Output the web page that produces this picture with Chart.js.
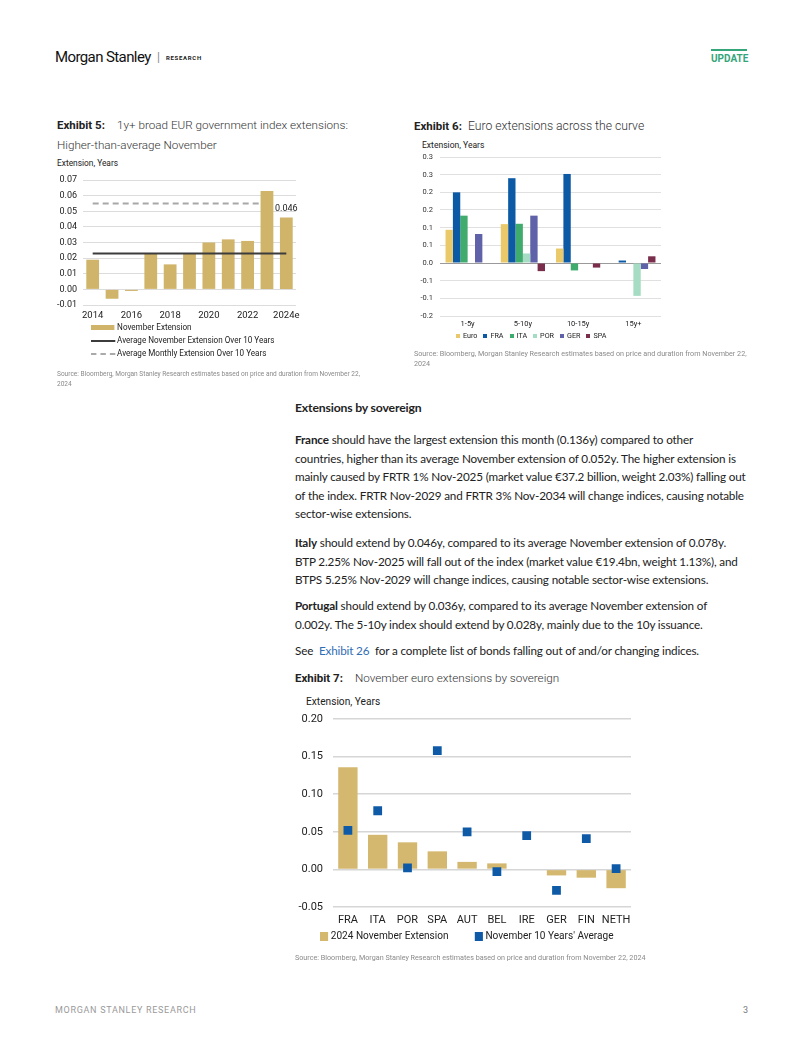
<!DOCTYPE html>
<html lang="en">
<head>
<meta charset="UTF-8">
<title>November euro extensions</title>
<script src="https://cdn.jsdelivr.net/npm/chart.js"></script>
<style>
    * { margin: 0; padding: 0; box-sizing: border-box; }
    body { background: #fff; width: 802px; height: 1037px; position: relative; overflow: hidden; font-family: Roboto, sans-serif; color: #222; }
    .abs { position: absolute; white-space: nowrap; }
    .cond { transform: scaleX(0.9); transform-origin: left center; }
    .ex { font-size: 11.5px; line-height: 14px; font-weight: 700; color: #222; }
    .ext { font-size: 11.7px; line-height: 14px; font-weight: 300; color: #333; }
    .src { font-size: 7.2px; line-height: 10px; color: #8a8a8a; }
    .body { font-family: Lato, 'Open Sans', sans-serif; font-size: 11.7px; letter-spacing: -0.15px; line-height: 18.5px; color: #222; }
    .body b { font-weight: 700; }
    .body a { color: #2f6db5; text-decoration: none; }
    .lg { display: flex; align-items: center; }
    .sw { display: inline-block; }
    canvas { display: block; }
</style>
</head>
<body>
<!-- header -->
<div class="abs" style="left:55px; top:48px; font-size:15px; line-height:18px; letter-spacing:-0.6px; color:#111;">Morgan Stanley</div>
<div class="abs" style="left:157px; top:50px; font-size:12px; line-height:14px; color:#888;">|</div>
<div class="abs" style="left:166px; top:54px; font-size:6px; line-height:8px; font-weight:700; letter-spacing:0.7px;">RESEARCH</div>
<div class="abs" style="left:711px; top:49px; width:36px; border-top:2px solid #35a57a; padding-top:2px; font-size:10px; line-height:12px; font-weight:700; color:#35a57a; text-align:center;">UPDATE</div>

<!-- exhibit 5 -->
<div class="abs ex" style="left:57px; top:118px;">Exhibit 5:</div>
<div class="abs ext" style="left:117px; top:118px;">1y+ broad EUR government index extensions:</div>
<div class="abs ext" style="left:57px; top:138px;">Higher-than-average November</div>
<div class="abs cond" style="left:57px; top:157px; font-size:9.3px; line-height:12px;">Extension, Years</div>
<div class="abs" style="left:55px; top:172px; width:245px; height:154px;"><canvas id="c5"></canvas></div>
<div class="abs cond" style="left:91px; top:321px; font-size:9px; line-height:13px;">
    <div class="lg"><span class="sw" style="width:26px; height:5px; background:#d0b46a; margin-right:3px;"></span>November Extension</div>
    <div class="lg"><span class="sw" style="width:27px; height:0; border-top:2px solid #3c3c3c; margin-right:2px;"></span>Average November Extension Over 10 Years</div>
    <div class="lg"><span class="sw" style="width:27px; height:0; border-top:2px dashed #aaa; margin-right:2px;"></span>Average Monthly Extension Over 10 Years</div>
</div>
<div class="abs src" style="left:57px; top:369px; font-size:6.55px;">Source: Bloomberg, Morgan Stanley Research estimates based on price and duration from November 22,<br>2024</div>

<!-- exhibit 6 -->
<div class="abs ex" style="left:414px; top:119px;">Exhibit 6:</div>
<div class="abs ext" style="left:468px; top:119px; font-size:12.2px;">Euro extensions across the curve</div>
<div class="abs cond" style="left:422px; top:139px; font-size:9.5px; line-height:12px;">Extension, Years</div>
<div class="abs" style="left:412px; top:151px; width:255px; height:181px;"><canvas id="c6"></canvas></div>
<div class="abs" id="lg6" style="left:456px; top:331px; font-size:7.2px; line-height:10px; display:flex; gap:6px;"></div>
<div class="abs src" style="left:414px; top:349px;">Source: Bloomberg, Morgan Stanley Research estimates based on price and duration from November 22,<br>2024</div>

<!-- text -->
<div class="abs body" style="left:295px; top:399px; font-weight:700; font-size:12.2px;">Extensions by sovereign</div>
<div class="abs body" style="left:295px; top:430px;"><b>France</b> should have the largest extension this month (0.136y) compared to other<br>countries, higher than its average November extension of 0.052y. The higher extension is<br>mainly caused by FRTR 1% Nov-2025 (market value €37.2 billion, weight 2.03%) falling out<br>of the index. FRTR Nov-2029 and FRTR 3% Nov-2034 will change indices, causing notable<br>sector-wise extensions.</div>
<div class="abs body" style="left:295px; top:533px;"><b>Italy</b> should extend by 0.046y, compared to its average November extension of 0.078y.<br>BTP 2.25% Nov-2025 will fall out of the index (market value €19.4bn, weight 1.13%), and<br>BTPS 5.25% Nov-2029 will change indices, causing notable sector-wise extensions.</div>
<div class="abs body" style="left:295px; top:596px;"><b>Portugal</b> should extend by 0.036y, compared to its average November extension of<br>0.002y. The 5-10y index should extend by 0.028y, mainly due to the 10y issuance.</div>
<div class="abs body" style="left:295px; top:641px;">See &nbsp;<a>Exhibit 26</a>&nbsp; for a complete list of bonds falling out of and/or changing indices.</div>

<!-- exhibit 7 -->
<div class="abs ex" style="left:295px; top:671px;">Exhibit 7:</div>
<div class="abs ext" style="left:355px; top:671px;">November euro extensions by sovereign</div>
<div class="abs cond" style="left:306px; top:695px; font-size:11.3px; line-height:14px;">Extension, Years</div>
<div class="abs" style="left:295px; top:709px; width:345px; height:222px;"><canvas id="c7"></canvas></div>
<div class="abs cond" style="left:320px; top:929px; font-size:11.2px; line-height:14px; display:flex;">
    <div class="lg"><span class="sw" style="width:9px; height:9px; background:#d4b86f; margin-right:3px;"></span>2024 November Extension</div>
    <div class="lg" style="margin-left:29px;"><span class="sw" style="width:9px; height:9px; background:#0e5aa7; margin-right:3px;"></span>November 10 Years' Average</div>
</div>
<div class="abs src" style="left:295px; top:953px;">Source: Bloomberg, Morgan Stanley Research estimates based on price and duration from November 22, 2024</div>

<!-- footer -->
<div class="abs" style="left:55px; top:1005px; font-size:9px; line-height:11px; letter-spacing:0.7px; color:#9a9a9a;">MORGAN STANLEY RESEARCH</div>
<div class="abs" style="left:743px; top:1005px; font-size:9px; line-height:11px; color:#777;">3</div>

<script>
    // exhibit 5 - 1y+ broad EUR index, November extensions
    const years5 = ['2014', '2015', '2016', '2017', '2018', '2019', '2020', '2021', '2022', '2023', '2024e'];
    const novExtension = [0.019, -0.006, -0.001, 0.023, 0.016, 0.023, 0.030, 0.032, 0.031, 0.063, 0.046];
    const avgNovOver10y = [0.023, 0.023, 0.023, 0.023, 0.023, 0.023, 0.023, 0.023, 0.023, 0.023, 0.023];
    const avgMonthlyOver10y = [0.055, 0.055, 0.055, 0.055, 0.055, 0.055, 0.055, 0.055, 0.055, 0.055, null];
    const ticks5 = ['2014', '', '2016', '', '2018', '', '2020', '', '2022', '', '2024e'];

    // exhibit 6 - euro extensions across the curve
    const buckets = ['1-5y', '5-10y', '10-15y', '15y+'];
    const euroExt = [0.094, 0.110, 0.041, 0];
    const fraExt = [0.200, 0.240, 0.252, 0.007];
    const itaExt = [0.134, 0.111, -0.021, 0];
    const porExt = [0, 0.027, 0, -0.093];
    const gerExt = [0.082, 0.134, 0, -0.017];
    const spaExt = [0, -0.023, -0.013, 0.019];

    // exhibit 7 - by sovereign
    const sovereigns = ['FRA', 'ITA', 'POR', 'SPA', 'AUT', 'BEL', 'IRE', 'GER', 'FIN', 'NETH'];
    const nov2024Ext = [0.136, 0.046, 0.036, 0.024, 0.010, 0.008, 0, -0.008, -0.011, -0.025];
    const nov10yAvg = [0.052, 0.078, 0.002, 0.158, 0.050, -0.003, 0.045, -0.028, 0.041, 0.001];

    const FONT = "Roboto, sans-serif";
    Chart.defaults.font.family = FONT;
    Chart.defaults.color = '#222';
    Chart.defaults.animation = false;
    Chart.defaults.maintainAspectRatio = false;
    Chart.defaults.responsive = true;
    Chart.defaults.plugins.legend.display = false;
    Chart.defaults.plugins.tooltip.enabled = false;

    // fixed axis sizes, no label overhang padding
    function fixSize(w, h) {
        return function (s) {
            if (w != null) s.width = w;
            if (h != null) s.height = h;
            s.paddingTop = 0; s.paddingBottom = 0; s.paddingLeft = 0; s.paddingRight = 0;
        };
    }

    const lastLabel = {
        id: 'lastLabel',
        afterDatasetsDraw(chart) {
            const bar = chart.getDatasetMeta(1).data[novExtension.length - 1];
            const ctx = chart.ctx;
            ctx.save();
            ctx.font = "9px " + FONT;
            ctx.fillStyle = '#222';
            ctx.textAlign = 'center';
            ctx.textBaseline = 'bottom';
            ctx.fillText(novExtension[novExtension.length - 1].toFixed(3), bar.x, bar.y - 4);
            ctx.restore();
        }
    };

    new Chart(document.getElementById('c5'), {
        type: 'bar',
        data: {
            labels: years5,
            datasets: [
                { type: 'line', label: 'Average November Extension Over 10 Years', data: avgNovOver10y, borderColor: '#3c3c3c', borderWidth: 2, pointRadius: 0, order: 0 },
                { label: 'November Extension', data: novExtension, backgroundColor: '#d0b46a', categoryPercentage: 0.66, barPercentage: 1, order: 1 },
                { type: 'line', label: 'Average Monthly Extension Over 10 Years', data: avgMonthlyOver10y, borderColor: '#a8a8a8', borderWidth: 2, borderDash: [6, 4], pointRadius: 0, order: 2 }
            ]
        },
        options: {
            layout: { autoPadding: false, padding: { top: 8, right: 4, left: 0, bottom: 0 } },
            scales: {
                x: {
                    grid: { display: false, drawTicks: false }, border: { display: false },
                    ticks: { autoSkip: false, maxRotation: 0, padding: 5, font: { size: 9.5 }, callback: (v, i) => ticks5[i] },
                    afterFit: fixSize(null, 21)
                },
                y: {
                    min: -0.01, max: 0.07,
                    grid: { color: '#dcdcdc', drawTicks: false }, border: { display: false },
                    ticks: { stepSize: 0.01, padding: 6, font: { size: 9 }, callback: v => v.toFixed(2) },
                    afterFit: fixSize(28, null)
                }
            }
        },
        plugins: [lastLabel]
    });

    const colors6 = { Euro: '#eac96b', FRA: '#0c5aa6', ITA: '#3fab6c', POR: '#a5dcc3', GER: '#5f61a9', SPA: '#7a2e4c' };
    const series6 = [['Euro', euroExt], ['FRA', fraExt], ['ITA', itaExt], ['POR', porExt], ['GER', gerExt], ['SPA', spaExt]];
    const lg6 = document.getElementById('lg6');
    series6.forEach(([name]) => {
        lg6.insertAdjacentHTML('beforeend', `<div class="lg"><span class="sw" style="width:4px;height:4px;background:${colors6[name]};margin-right:3px;"></span>${name}</div>`);
    });

    const round1 = v => {
        const a = Math.round(Math.round(Math.abs(v) * 100) / 10) / 10;
        return (v < -1e-9 ? '-' : '') + a.toFixed(1);
    };

    new Chart(document.getElementById('c6'), {
        type: 'bar',
        data: {
            labels: buckets,
            datasets: series6.map(([name, vals]) => ({ label: name, data: vals, backgroundColor: colors6[name], categoryPercentage: 0.8, barPercentage: 1 }))
        },
        options: {
            layout: { autoPadding: false, padding: { top: 6, right: 6, left: 0, bottom: 0 } },
            scales: {
                x: {
                    grid: { display: false, drawTicks: false }, border: { display: false },
                    ticks: { autoSkip: false, maxRotation: 0, padding: 4, font: { size: 7.5 } },
                    afterFit: fixSize(null, 16)
                },
                y: {
                    min: -0.15, max: 0.30,
                    grid: { color: c => Math.abs(c.tick.value) < 1e-9 ? '#9a9a9a' : '#e0e0e0', drawTicks: false }, border: { display: false },
                    ticks: { stepSize: 0.05, padding: 7, font: { size: 7.5 }, color: '#333', callback: v => round1(v) },
                    afterFit: fixSize(28, null)
                }
            }
        }
    });

    new Chart(document.getElementById('c7'), {
        type: 'bar',
        data: {
            labels: sovereigns,
            datasets: [
                { type: 'line', label: "November 10 Years' Average", data: nov10yAvg, showLine: false, pointStyle: 'rect', pointRadius: 6.2, pointBackgroundColor: '#0e5aa7', pointBorderWidth: 0, order: 0 },
                { label: '2024 November Extension', data: nov2024Ext, backgroundColor: '#d4b86f', categoryPercentage: 0.65, barPercentage: 1, order: 1 }
            ]
        },
        options: {
            layout: { autoPadding: false, padding: { top: 10, right: 9, left: 0, bottom: 0 } },
            scales: {
                x: {
                    grid: { display: false, drawTicks: false }, border: { display: false },
                    ticks: { autoSkip: false, maxRotation: 0, padding: 7, font: { size: 11 } },
                    afterFit: fixSize(null, 24)
                },
                y: {
                    min: -0.05, max: 0.20,
                    grid: { color: '#d6d6d6', lineWidth: 1.5, drawTicks: false }, border: { display: false },
                    ticks: { stepSize: 0.05, padding: 10, font: { size: 11 }, callback: v => v.toFixed(2) },
                    afterFit: fixSize(38, null)
                }
            }
        }
    });
</script>
</body>
</html>
